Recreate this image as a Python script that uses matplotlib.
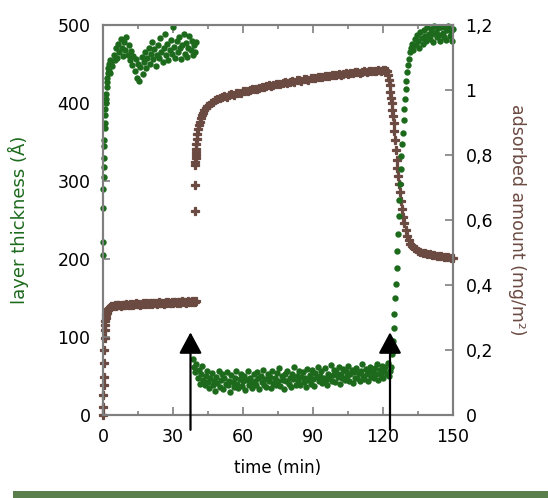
import numpy as np
import matplotlib
matplotlib.use("Agg")
import matplotlib.pyplot as plt
from matplotlib.patches import Rectangle
from matplotlib.ticker import MultipleLocator, FuncFormatter

# --- data: layer thickness (A), left axis ---
# initial swelling
g_rise_t = [0.05, 0.1, 0.15, 0.2, 0.3, 0.35, 0.45, 0.5, 0.6, 0.7, 0.8, 0.9, 1.0, 1.1,
            1.25, 1.4, 1.55, 1.7, 1.85, 2.0, 2.2, 2.4, 2.6, 2.8]
g_rise_v = [205, 222, 265, 290, 305, 318, 330, 345, 352, 368, 375, 384, 392, 400,
            405, 412, 420, 427, 432, 438, 445, 450, 441, 455]
# first plateau, sampled every 0.5 min from 3 to 40 min
g_high_v = [438, 452, 447, 461, 455, 470, 458, 476, 465, 482, 471, 460, 478, 468, 485,
            462, 474, 455, 467, 449, 460, 441, 456, 432, 450, 428, 446, 459, 437, 452,
            466, 445, 458, 471, 450, 463, 478, 456, 469, 448, 462, 475, 458, 483, 466,
            452, 470, 488, 461, 476, 455, 468, 481, 463, 497, 472, 458, 479, 466, 484,
            470, 456, 475, 489, 463, 477, 459, 471, 486, 468, 480, 462, 474, 466, 478]
# collapsed layer, sampled every 0.5 min from 38.5 to 123 min
g_low_v = [72, 61, 55, 66, 48, 58, 40, 52, 63, 45,
           38, 50, 57, 42, 35, 47, 54, 39, 44, 31,
           49, 41, 56, 36, 45, 52, 33, 47, 40, 55,
           38, 44, 30, 51, 42, 36, 48, 57, 40, 34,
           46, 53, 37, 43, 50, 32, 45, 56, 39, 48,
           41, 35, 52, 44, 38, 55, 47, 33, 50, 42,
           58, 39, 46, 36, 53, 44, 49, 35, 57, 41,
           47, 38, 54, 43, 60, 37, 50, 45, 33, 52,
           44, 56, 40, 48, 36, 53, 46, 61, 39, 50,
           43, 57, 38, 49, 55, 42, 47, 36, 59, 45,
           51, 40, 58, 46, 37, 54, 49, 62, 43, 50,
           56, 41, 48, 60, 45, 38, 53, 47, 64, 44,
           51, 58, 42, 55, 49, 61, 40, 53, 47, 59,
           45, 56, 50, 63, 44, 52, 58, 41, 55, 48,
           60, 47, 54, 43, 57, 65, 50, 46, 59, 53,
           44, 56, 62, 49, 55, 47, 60, 52, 66, 45,
           58, 51, 63, 48, 56, 61, 53, 67, 50, 57]
# re-swelling after 2nd injection
g_up_t = [123.5, 124.0, 124.3, 124.6, 124.9, 125.2, 125.5, 125.8, 126.1, 126.4, 126.7,
          127.0, 127.3, 127.6, 127.9, 128.2, 128.5, 128.8, 129.1, 129.4, 129.7, 130.0,
          130.4, 130.8, 131.2, 131.6, 132.0]
g_up_v = [62, 78, 95, 112, 130, 150, 168, 188, 210, 232, 255, 276, 296, 315, 332, 348,
          362, 378, 392, 405, 418, 428, 440, 449, 457, 465, 471]
# final plateau, every 0.5 min from 132.5 to 150 min
g_top_v = [476, 468, 482, 474, 487, 479, 470, 491, 483, 476, 494, 486, 480, 497, 489,
           482, 495, 488, 478, 499, 491, 484, 496, 487, 479, 498, 490, 485, 497, 481,
           493, 499, 486, 492, 480, 495]

# --- data: adsorbed amount (mg/m2), right axis ---
b_rise_t = [0.0, 0.1, 0.2, 0.3, 0.4, 0.5, 0.6, 0.7, 0.8, 0.9, 1.0, 1.2, 1.4, 1.6, 1.8,
            2.0, 2.3, 2.6, 3.0]
b_rise_v = [0.0, 0.025, 0.062, 0.092, 0.117, 0.16, 0.2, 0.237, 0.262, 0.277, 0.29,
            0.30, 0.308, 0.315, 0.32, 0.324, 0.327, 0.330, 0.333]
# plateau every 0.5 min, 3.5 to 40 min
b_plat_v = [0.334, 0.336, 0.335, 0.337, 0.336, 0.338, 0.337, 0.339, 0.336, 0.338,
            0.340, 0.338, 0.339, 0.341, 0.339, 0.340, 0.342, 0.339, 0.341, 0.340,
            0.342, 0.344, 0.341, 0.343, 0.342, 0.340, 0.343, 0.345, 0.342, 0.344,
            0.343, 0.345, 0.342, 0.344, 0.346, 0.343, 0.345, 0.344, 0.346, 0.343,
            0.345, 0.347, 0.344, 0.346, 0.345, 0.343, 0.346, 0.348, 0.345, 0.347,
            0.344, 0.346, 0.348, 0.345, 0.347, 0.349, 0.346, 0.348, 0.347, 0.345,
            0.348, 0.350, 0.347, 0.349, 0.346, 0.348, 0.350, 0.347, 0.349, 0.351,
            0.348, 0.350, 0.349, 0.351]
b_jump_t = [39.5, 39.5, 39.6, 39.6, 39.7, 39.7, 39.8, 39.9, 40.0, 40.2, 40.4, 40.7,
            41.0, 41.4, 41.8, 42.3, 42.8, 43.4, 44.0, 44.7, 45.4, 46.2, 47.0, 48.0, 49.0]
b_jump_v = [0.628, 0.708, 0.77, 0.78, 0.79, 0.80, 0.81, 0.82, 0.835, 0.85, 0.865, 0.88,
            0.892, 0.903, 0.913, 0.922, 0.930, 0.938, 0.944, 0.950, 0.955, 0.959, 0.963,
            0.968, 0.972]
# slow growth, every 1 min from 50 to 121 min
b_slow_v = [0.975, 0.978, 0.981, 0.980, 0.984, 0.987, 0.986, 0.990, 0.992, 0.991,
            0.996, 0.998, 0.997, 1.001, 1.003, 1.004, 1.002, 1.007, 1.009, 1.008,
            1.012, 1.014, 1.011, 1.016, 1.018, 1.019, 1.017, 1.022, 1.024, 1.021,
            1.026, 1.027, 1.025, 1.030, 1.031, 1.029, 1.033, 1.035, 1.032, 1.036,
            1.038, 1.036, 1.040, 1.041, 1.039, 1.043, 1.044, 1.042, 1.046, 1.045,
            1.047, 1.049, 1.046, 1.050, 1.051, 1.049, 1.053, 1.052, 1.054, 1.055,
            1.053, 1.056, 1.057, 1.055, 1.058, 1.059, 1.057, 1.060, 1.061, 1.059,
            1.062, 1.063]
b_drop_t = [121.5, 122.0, 122.4, 122.8, 123.1, 123.4, 123.7, 124.0, 124.3, 124.6,
            124.9, 125.2, 125.5, 125.8, 126.2, 126.6, 127.0, 127.4, 127.8, 128.2,
            128.7, 129.2, 129.8, 130.4, 131.0, 131.7, 132.4, 133.2, 134.0, 135.0,
            136.0, 137.0, 138.0, 139.0, 140.0, 141.0, 142.0, 143.0, 144.0, 145.0,
            146.0, 147.0, 148.0, 149.0, 150.0]
b_drop_v = [1.058, 1.045, 1.03, 1.015, 0.995, 0.975, 0.96, 0.94, 0.92, 0.9,
            0.875, 0.846, 0.815, 0.785, 0.76, 0.735, 0.71, 0.685, 0.66, 0.635,
            0.61, 0.59, 0.57, 0.552, 0.538, 0.527, 0.52, 0.514, 0.51, 0.506,
            0.503, 0.500, 0.498, 0.496, 0.494, 0.493, 0.491, 0.490, 0.489, 0.488,
            0.487, 0.486, 0.485, 0.484, 0.483]

arrow_times = [37.5, 123]

green = "#1d6a1d"
brown = "#6b4a42"
spine_col = "#7f7f7f"

# sampling grids of the dense segments
g_high_t = np.linspace(3, 40, len(g_high_v))
g_low_t = np.linspace(38.5, 123, len(g_low_v))
g_top_t = np.linspace(132.5, 150, len(g_top_v))
b_plat_t = np.linspace(3.5, 40, len(b_plat_v))
b_slow_t = np.linspace(50, 121, len(b_slow_v))

g_t = np.concatenate([g_rise_t, g_high_t, g_low_t, g_up_t, g_top_t])
g_v = np.concatenate([g_rise_v, g_high_v, g_low_v, g_up_v, g_top_v])
b_t = np.concatenate([b_rise_t, b_plat_t, b_jump_t, b_slow_t, b_drop_t])
b_v = np.concatenate([b_rise_v, b_plat_v, b_jump_v, b_slow_v, b_drop_v])

fig = plt.figure(figsize=(5.48, 4.98), dpi=100)
ax = fig.add_axes([103/548, 83/498, 350/548, 390/498])
ax2 = ax.twinx()

ax2.plot(b_t, b_v, linestyle="none", marker="P", markersize=6, color=brown,
         markeredgewidth=0.9, clip_on=False)
ax.plot(g_t, g_v, linestyle="none", marker="o", markersize=4.6, color=green,
        markeredgewidth=0, clip_on=False)

# green on top of brown
ax.set_zorder(2)
ax2.set_zorder(1)
ax.patch.set_visible(False)

ax.set_xlim(0, 150)
ax.set_ylim(0, 500)
ax2.set_ylim(0, 1.2)

ax.xaxis.set_major_locator(MultipleLocator(30))
ax.xaxis.set_minor_locator(MultipleLocator(15))
ax.yaxis.set_major_locator(MultipleLocator(100))
ax2.yaxis.set_major_locator(MultipleLocator(0.2))
ax2.yaxis.set_major_formatter(FuncFormatter(lambda v, p: f"{v:g}".replace(".", ",")))

ax.tick_params(axis="x", which="major", direction="in", top=True, length=6, width=1.2,
               color=spine_col, labelsize=12.5, pad=9)
ax.tick_params(axis="x", which="minor", direction="in", top=True, length=3, width=1.2,
               color=spine_col)
ax.tick_params(axis="y", direction="in", length=5, width=1.2, color=spine_col,
               labelsize=12.5, pad=9)
ax2.tick_params(axis="y", direction="in", length=6, width=1.2, color=spine_col,
                labelsize=12.5, pad=9)

for a in (ax, ax2):
    for s in a.spines.values():
        s.set_color(spine_col)
        s.set_linewidth(1.5)

ax.set_xlabel("time (min)", fontsize=12)
ax.xaxis.set_label_coords(0.5, -0.113)
ax.set_ylabel("layer thickness (Å)", fontsize=13, color=green)
ax.yaxis.set_label_coords(-0.212, 0.5)
ax2.set_ylabel("adsorbed amount (mg/m²)", fontsize=12.5, color=brown,
               rotation=-90, va="center")
ax2.yaxis.set_label_coords(1.183, 0.5)

# injection arrows
for t in arrow_times:
    ax.annotate("", xy=(t, 106), xytext=(t, -19), xycoords="data",
                annotation_clip=False,
                arrowprops=dict(arrowstyle="-|>,head_length=0.65,head_width=0.35",
                                mutation_scale=20, color="black", lw=1.6,
                                shrinkA=0, shrinkB=0))

# green band at the bottom
fig.add_artist(Rectangle((13/548, 0), 1, 7/498, transform=fig.transFigure,
                         color="#5b7f4c", lw=0))

fig.savefig("out.png", dpi=100)
